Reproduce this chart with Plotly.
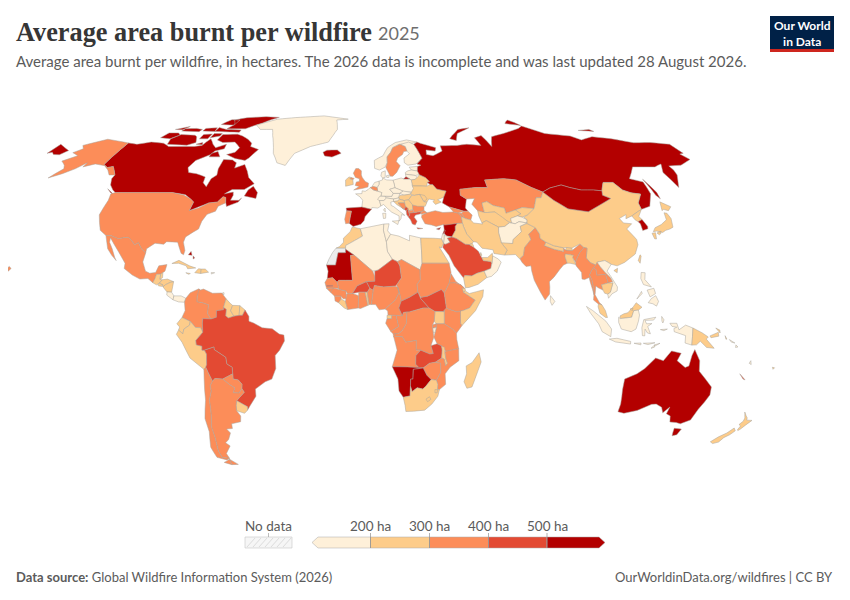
import plotly.graph_objects as go

# ---- Values read from the legend colour of each country (hectares, estimated inside each bin); None = no data
GEO_LOW = ["GRL","CRI","PAN","PRI","NOR","FIN","DNK","FRA","NLD","DEU","POL","CZE","AUT","CHE","ITA","SVN","SVK","LTU","LVA","EST","ISR","JOR","OMN","TJK","AFG","LKA","VNM","IDN","PHL","TLS","SLB","VUT","DZA","TUN","LBY","BDI","TTO"]
GEO_200 = ["GTM","BLZ","HND","SLV","NIC","CUB","HTI","DOM","JAM","GUY","SUR","GUF","ECU","PER","URY","IRL","HRV","SRB","HUN","UKR","MDA","BLR","ROU","IRQ","IRN","YEM","ARE","QAT","KWT","UZB","TKM","KGZ","PAK","NPL","BTN","BGD","CHN","PRK","JPN","TWN","KHM","MYS","BRN","PNG","NZL","FJI","MAR","EGY","DJI","SOM","LBR","TGO","GNQ","UGA","MWI","ZAF","LSO","SWZ","MDG"]
GEO_300 = ["USA","MEX","COL","VEN","CHL","ARG","PRY","GBR","SWE","PRT","BEL","BIH","MKD","BGR","TUR","GEO","ARM","AZE","KAZ","IND","MMR","THA","LAO","MLI","TCD","SDN","ERI","ETH","SEN","GNB","GIN","SLE","CIV","GHA","BEN","NGA","CMR","GAB","COG","COD","KEN","TZA","RWA","AGO","MOZ","ZWE"]
GEO_400 = ["BRA","BOL","MNE","ALB","GRC","SAU","NCL","NER","SSD","GMB","BFA","CAF","ZMB"]
GEO_500 = ["CAN","ISL","BHS","ESP","CYP","SYR","LBN","RUS","MNG","KOR","AUS","MRT","NAM","BWA"]
GEO_NONE = ["ESH"]
BIN_VALUES = [150, 250, 350, 450, 600]
legend_ticks = ["200 ha", "300 ha", "400 ha", "500 ha"]
legend_colors = ["#fef0d9", "#fdcc8a", "#fc8d59", "#e34a33", "#b30000"]
NO_DATA_COLOR = "#ececec"

# ---- Geography: coarse lon/lat outlines, needed because the world topojson cannot be fetched offline
OUTLINES = {
"CAN":["-141 69.6,-135 69,-128 70,-120 69.5,-115 68,-108 68,-100 68,-96 68.5,-94 71.5,-90 69,-87 67.5,-82 69,-81.5 67,-86 66,-87 64.5,-93 62,-94.5 59,-92.5 57,-88 56.5,-82.5 55.2,-82 52.9,-79.5 51.3,-79 54.5,-77 56,-78 58.5,-78 62.4,-73 62.2,-70 61,-69.5 58.8,-65 60.3,-62 57.5,-60 55,-56 52.5,-60 50.2,-66 50.2,-69 48.5,-65 49.2,-64.5 48,-65 46,-61 46,-60 46.9,-61 45.3,-66 43.6,-67 45.2,-67.8 47.1,-69.2 47.4,-71 45.3,-75 45,-79 43.5,-83 42,-82.5 45.3,-84.5 46.5,-88 48.2,-95 49,-123 49,-125 50,-128 52,-130 54.5,-130 56,-135 59.5,-137.5 59,-141 60.3",
"-61.5 66.7,-64.5 63,-66 62,-72 62.8,-78 64.5,-74 65.5,-73 67.5,-78 70,-85 69.8,-89.5 71,-89 73.5,-80 73.7,-76 72.8,-71 71.2,-67.5 69.5,-67 68",
"-117 69,-105 68.6,-101 69.8,-104 72.5,-106 73.2,-115 73.5,-118.5 71.5","-125.5 72,-119 71.5,-115.5 73.3,-118 74.3,-124 74.3","-90 76.3,-78 76.3,-74 78,-70 79.3,-66 81.3,-62 82.6,-72 83.1,-85 82.4,-92 81,-88 78.5","-96 75,-80 74.6,-80 75.7,-90 76,-96 77","-117.5 75.2,-106 74.9,-105.5 76,-110 76.5,-117 76.3","-97 78.5,-88 78.2,-88 81,-94 81.2","-59 47.7,-53 46.7,-53 49,-56 51.5,-58 50","-128 50.5,-123.5 48.4,-125 48.8","-87 63.5,-81 63.5,-84 65.8,-87 65","-95 72,-90 72.8,-90 74,-95 74","-101 71.5,-96 71.5,-96 73.8,-101 73.5","-104 75.2,-96 75,-97 76.8,-104 76.5","-123 76,-118 75.8,-116 77.5,-120 76.6","-100 69,-96 68.8,-97 69.8"],
"GRL":["-73 78.2,-68 76,-60 76,-55 70,-52 65,-48 61,-43 59.9,-40 65,-32 68,-22 70,-18 76,-20 81,-12 81.5,-30 83.6,-50 82.5,-62 81.5"],
"USA":["-124.7 48.4,-123 49,-95 49,-88.5 48,-84.5 46.5,-82.5 45.3,-83 42,-79 43,-75 45,-71 45.3,-69.2 47.4,-67.8 47.1,-67 45,-70 43.7,-70.5 41.8,-74 40.6,-75.5 38,-76 35,-78 33.9,-81 32,-81.4 30,-80 26.8,-80.3 25.2,-81.5 25.8,-82.8 28,-84 30,-89 30.2,-90 29.2,-94 29.6,-97.2 27.5,-97.2 25.9,-99.5 27.5,-101.5 29.8,-103 29,-104.7 30.5,-106.5 31.8,-108.2 31.8,-111 31.3,-114.8 32.5,-117.1 32.5,-120.6 34.5,-122.5 37.5,-124.3 40.4,-124 46",
"-141 69.6,-141 60.3,-137.5 59,-135 59.5,-130 56,-133 56,-136 58,-140 59.8,-146 60.5,-151 59.3,-151 61,-154 58.5,-158 56.5,-163 54.8,-160 58.5,-162 60,-166 61.7,-161 64,-166 65.3,-163 67,-166 68.5,-156.5 71.3,-148 70.4",
"-156 19,-155 20,-156 20.8,-157 20"],
"MEX":["-117.1 32.5,-114.8 32.5,-111 31.3,-108.2 31.8,-106.5 31.8,-104.7 30.5,-103 29,-101.5 29.8,-99.5 27.5,-97.2 25.9,-97.8 22.5,-96 19,-94 18.2,-91.5 18.5,-90.5 21,-87 21.5,-87.5 19,-88.3 18.5,-89 17.9,-91 17.8,-91.4 16.2,-92.2 14.6,-94.5 16.2,-98 16,-101.5 17.5,-105.5 20,-105.5 22,-109 26,-112.5 29.5,-114.7 31.7,-114.5 30,-112.5 27.5,-110.5 24.2,-109.6 23,-112 25,-114.5 27.5,-116 30.5"],
"GTM":["-92.2 14.6,-91.4 16.2,-91 17.8,-89.2 17.8,-89.2 15.9,-88.3 15.7,-89.3 14.4,-90.5 13.8"],
"BLZ":["-89.2 17.9,-88.3 18.5,-88.2 16.5,-89.2 15.9"],
"SLV":["-90 13.8,-89.3 14.4,-87.8 13.9,-87.8 13.2,-89.5 13.4"],
"HND":["-89.3 14.4,-88.3 15.7,-86 16,-83.2 15,-84.7 14.7,-86.7 13.8,-87.5 13,-87.8 13.9"],
"NIC":["-87.6 13,-86.7 13.8,-84.7 14.7,-83.2 15,-83.7 11,-85.7 11.1"],
"CRI":["-85.7 11.1,-83.7 11,-82.6 9.6,-82.9 8.1,-85.7 9.9"],
"PAN":["-82.9 8.1,-82.6 9.6,-79.5 9.6,-77.4 8.7,-77.9 7.2,-80.4 7.3"],
"CUB":["-84.9 21.9,-82 23.1,-77 21,-74.2 20.2,-77.7 19.9,-78.5 21,-82 22"],
"HTI":["-74.4 18.4,-73 19.9,-71.7 19.8,-71.8 18.1"],
"DOM":["-71.7 19.8,-70 19.8,-68.4 18.6,-71.8 18.1"],
"JAM":["-78.3 18.4,-76.3 18.1,-77 17.8"],
"PRI":["-67.2 18.5,-65.7 18.4,-67.1 17.9"],
"BHS":["-78.2 25.2,-77.2 26.5,-76.5 25","-76 24.8,-75.2 24,-75.8 23.6"],
"TTO":["-61.6 10.8,-61 10.8,-61 10.1,-61.8 10.1"],
"COL":["-77.4 8.7,-75.6 10.8,-72 12.3,-71.3 11.8,-72.5 9.5,-72.5 7.4,-70 7,-67.5 6.2,-67.8 2.8,-66.3 0.8,-69.8 1,-70 -0.7,-69.9 -4.2,-70.8 -2.5,-73 -2.4,-75.2 -0.1,-78.8 1.4,-77.5 4,-77.9 7.2"],
"VEN":["-72 12,-71.3 11.8,-70 12.2,-66 10.6,-62 10.7,-60.8 9.4,-60 8.5,-61 5.2,-61 4.3,-64 4,-64 1.5,-66.3 0.8,-67.8 2.8,-67.5 6.2,-70 7,-72.5 7.4,-72.5 9.5"],
"GUY":["-60 8.5,-58.2 6.8,-57.1 6,-57.9 4,-56.5 1.9,-58.8 1.2,-60 2,-59.8 4.5,-61 5.2"],
"SUR":["-57.1 6,-54 5.9,-54.2 2.2,-56.5 1.9,-57.9 4"],
"GUF":["-54 5.9,-51.7 4.2,-52.8 2.2,-54.2 2.2"],
"ECU":["-78.8 1.4,-75.2 -0.1,-75.5 -1.5,-78 -3,-78.5 -4.8,-80.3 -3.4,-79.8 -2.2,-81 -1"],
"PER":["-80.3 -3.4,-78.5 -4.8,-78 -3,-75.5 -1.5,-75.2 -0.1,-73 -2.4,-70.8 -2.5,-69.9 -4.2,-73 -7.3,-72.9 -9,-70.5 -9.5,-70.6 -11,-69.5 -11,-68.7 -12.5,-69 -16.5,-69.5 -17.5,-70.4 -18.3,-76 -14,-79 -8,-81.3 -5"],
"BRA":["-51.7 4.2,-50 1.8,-50 0,-48 -0.7,-44.3 -2.5,-40 -2.9,-37 -4.9,-35 -5.3,-34.8 -7.5,-37 -11,-39 -13,-39 -18,-41 -22,-44 -23,-48.6 -25.8,-48.7 -28.5,-52 -32.2,-53.4 -33.8,-53.2 -32.5,-57.6 -30.2,-53.7 -27,-54.6 -25.6,-54.3 -24,-55.8 -22.3,-58 -22,-58 -20,-58 -17.5,-60.2 -16.3,-60.5 -13.7,-65.3 -10.8,-65.3 -9.8,-69.5 -11,-70.6 -11,-70.5 -9.5,-72.9 -9,-73 -7.3,-69.9 -4.2,-70 -0.7,-69.8 1,-66.3 0.8,-64 1.5,-64 4,-61 4.3,-61 5.2,-59.8 4.5,-60 2,-58.8 1.2,-56.5 1.9,-54.2 2.2,-52.8 2.2"],
"BOL":["-69.5 -11,-65.3 -9.8,-65.3 -10.8,-60.5 -13.7,-60.2 -16.3,-58 -17.5,-58 -20,-62.6 -22,-66 -21.8,-67.2 -22.8,-68.7 -19.5,-69.5 -17.5,-69 -16.5,-68.7 -12.5"],
"PRY":["-58 -20,-58 -22,-55.8 -22.3,-54.3 -24,-54.6 -25.6,-56 -27.3,-58.6 -27.2,-57.7 -25.3,-60 -24,-62.6 -22"],
"URY":["-57.6 -30.2,-53.2 -32.5,-53.4 -33.8,-55 -35,-58.4 -34,-58.2 -32"],
"ARG":["-66 -21.8,-62.6 -22,-60 -24,-57.7 -25.3,-58.6 -27.2,-56 -27.3,-54.6 -25.6,-53.7 -27,-57.6 -30.2,-58.2 -32,-58.4 -34,-57 -36,-57.6 -38.2,-62 -39,-62.2 -40.8,-65 -41,-63.7 -42.5,-65.5 -45,-67.5 -46.3,-65.8 -47.5,-69 -50.5,-68.4 -52.4,-71.9 -52,-72.5 -49.5,-71.7 -44,-71.8 -40,-70.5 -36,-70 -33,-69.8 -30,-68.3 -26.5,-68.5 -24.5,-67.2 -22.8","-68.6 -52.7,-65.2 -54.8,-68.6 -54.9"],
"CHL":["-69.5 -17.5,-68.7 -19.5,-67.2 -22.8,-68.5 -24.5,-68.3 -26.5,-69.8 -30,-70 -33,-70.5 -36,-71.8 -40,-71.7 -44,-72.5 -49.5,-71.9 -52,-68.4 -52.4,-70 -53,-74.5 -52,-75.5 -48,-73.5 -42,-73.7 -37,-71.5 -30,-70.4 -18.3","-68.6 -52.7,-68.6 -54.9,-72 -54,-70 -53.3"],
"ISL":["-24 65.5,-22 66.4,-16 66.5,-13.6 65,-18.5 63.4,-22.7 63.9"],
"GBR":["-5.7 50,-1 50.7,1.4 51.2,1.7 52.7,0 53.4,-1.5 55,-2 56,-2 57.7,-3.5 58.6,-5 58.6,-6.2 56.7,-5 55,-3 54.5,-3 53.4,-4.5 53.2,-5 51.8,-3 51.4","-7.3 55,-5.6 54.6,-6.3 54.1,-7.9 54.4"],
"IRL":["-6.3 54.1,-6 52.2,-9.8 51.5,-10 54,-8.3 55.2,-7.3 55,-7.9 54.4"],
"NOR":["5 58.7,7.5 58,10.6 59.2,12 61,12.2 63.5,14.5 65.5,16 67.5,20 69,25 69,29 69.7,31 70,25 71,18 69.8,13 67.5,10 64,5 62,5 60"],
"SWE":["11 59,13 55.5,14.3 55.5,16.5 57,18.8 59.8,17 61.5,18 63,21 64.5,22 65.8,24 66,23.5 68,20.5 69,16 67.5,14.5 65.5,12.2 63.5,12 61"],
"FIN":["24 65.9,25 64.8,21.5 63,21.3 61,23 60,27.5 60.5,31.5 62.9,29.8 67,28.7 69,26 70,21 69,23.5 68"],
"DNK":["8.1 55.5,8.6 57.1,10.6 57.7,10.3 55,9 54.8","11 55.7,12.6 56,12.2 55,11.1 55"],
"EST":["23.5 59.2,28 59.5,27.5 57.6,24.4 58"],
"LVA":["21 57,22.5 57.7,24.4 58,27.5 57.6,28.2 56.1,26 55.8,21 56.3"],
"LTU":["21 56.3,26 55.8,26.8 55,25.5 54.2,23.5 54,22.8 54.4,21 55.3"],
"BLR":["23.5 54,25.5 54.2,26.8 55,28.2 56.1,31 55,32.7 53.4,31.5 53,30.8 51.5,28 51.6,23.6 51.6,23.6 52.6"],
"UKR":["23.6 51.6,28 51.6,30.8 51.5,32.7 52.2,34 52.2,35.5 50.4,38.2 49.9,40 49.6,38.2 47.2,35 46.2,36.6 45.3,33.6 44.4,32.6 45.5,33.5 46.1,30.8 46.5,29.7 45.3,28.2 45.5,29 47,26.6 48.3,24 47.9,22.2 48.4,22.8 49.2"],
"MDA":["26.6 48.3,29 47.9,30 46.5,28.2 45.5"],
"POL":["14.2 53.9,18.5 54.8,19.7 54.4,22.8 54.4,23.5 54,23.6 52.6,23.6 51.6,24 50.6,22.8 49.2,19 49.4,14.8 50.9,14.7 52"],
"DEU":["7 53.5,8.8 54,9 54.8,11 54,14.2 53.9,14.7 52,14.8 50.9,12.2 50.3,13.8 48.7,13 47.5,7.6 47.6,8.2 49,6.2 49.5,6 51,7 52.3"],
"NLD":["3.4 51.4,4.8 53,7 53.5,7 52.3,6 51,4 51.3"],
"FRA":["2.5 51,1.5 50.2,0 49.5,-1.5 49.7,-1.6 48.6,-4.7 48.5,-2.5 47.3,-1.2 46,-1.6 43.4,3 42.5,3.2 43.2,6 43,7.5 43.8,6.9 46,7.6 47.6,8.2 49,6.2 49.5,4.2 50","8.6 42.3,9.4 43,9.5 41.5"],
"BEL":["2.5 51,4 51.4,5.9 51,6.2 49.6,4.2 50"],
"ESP":["-9 43,-1.6 43.4,3 42.5,0 39.8,-0.5 38.2,-2 36.8,-5.5 36,-7.4 37.2,-7 39.5,-6.5 41.8,-8.8 42"],
"PRT":["-8.8 41.9,-6.5 41.8,-7 39.5,-7.4 37.2,-9 37,-9.5 38.7"],
"CHE":["6 46.3,6.9 47.4,7.6 47.6,9.6 47.5,10.4 46.9,9 45.9,6.9 45.9"],
"AUT":["9.6 47.5,13 47.5,13.8 48.7,17 48.7,16.2 46.9,13.7 46.5,10.4 46.9"],
"ITA":["6.9 45.9,9 45.9,10.4 46.9,13.7 46.5,13.8 45.6,12.3 45.3,12.4 44,13.5 43.6,16 41.9,18.5 40.2,17 40.5,16.6 38.9,15.7 38,15.8 40,12.5 41.4,10.5 42.9,8.8 44.4,7.5 43.8","12.5 38,15.6 38.2,15 36.7","8.2 41,9.7 41,9.5 39.1,8.5 39"],
"CZE":["12.2 50.3,14.8 50.9,18.8 49.6,17 48.7,13.8 48.7"],
"SVK":["17 48.7,18.8 49.6,22.5 49.1,22.2 48.4,19 48"],
"HUN":["16.2 46.9,17 48,19 48,22.2 48.4,22.8 47.9,21 46.2,18.8 45.9,16.7 46.4"],
"SVN":["13.7 46.5,16.2 46.9,16.7 46.4,15.5 45.7,13.7 45.5"],
"HRV":["13.7 45.5,15.5 45.7,16.7 46.4,18.8 45.9,19 45,15.8 45,17.5 43,18.5 42.5,15.2 44.3"],
"BIH":["15.8 45,19 45,19.3 43.6,18.5 42.5,17.5 43"],
"SRB":["18.8 45.9,21 46.2,22.6 44.5,22.6 42.5,20.6 42,19.3 43"],
"MNE":["18.5 42.5,19.3 43.6,20.3 42.8,19.3 41.9"],
"ALB":["19.3 41.9,20.3 42.8,20.6 41,20.9 40.3,20 39.7,19.4 40.5"],
"MKD":["20.6 42,22.6 42.3,23 41.3,20.6 41"],
"GRC":["20 39.7,20.9 40.3,20.6 41,23 41.3,26.3 41.7,26 40.8,23.5 40.3,22.8 39.5,24 38,23 36.5,21.7 36.9,21 38.5","23.6 35.5,26.3 35.2,24 35"],
"BGR":["22.6 44.2,28 43.7,27.7 42,26.3 41.7,23 41.3,22.6 42.5"],
"ROU":["21 46.2,22.8 47.9,24 47.9,26.6 48.3,28.2 45.5,29.7 45.2,28.6 43.7,25 43.7,22.6 44.2"],
"TUR":["26.2 39.5,27.5 37,30.5 36.5,32.5 36,36 36.7,36.5 36.2,42.3 37.1,44.8 37.2,44.8 39.7,43.6 41.1,41.5 41.5,36.5 41.3,33 42,29 41.2,26.5 40.3","26.3 41.7,28 42,29 41.2,26.2 40.6"],
"CYP":["32.5 35,34.5 35.6,33.7 34.7"],
"RUS":["28 59.5,30 60,28 60.5,31.5 62.9,29.8 67,28.7 69,31 70,33 69.4,41 67.5,40 66,35 66.5,34.5 64.5,38 64,40 64.6,44 66,44 68.3,54 68.5,60 69,68 68.5,67 72,72 73,73 71,74 68,78 72.5,87 74,100 76.5,104 77.7,113 74,127 72.8,131 71,140 72.5,150 71.5,160 69.7,170 69.8,180 69,180 65,177.5 64.7,179 62.4,170 60,163 59.7,163 58,162 56,156.5 51,156 57,160 60.5,155 59.3,143 59.3,135.5 54.5,141 53.2,140 48.5,135.5 43.7,131.5 42.7,130.6 42.5,131 45,135 48.4,130.7 48.9,127.5 50,125.5 53,120.5 53,117 49.7,113 50,107 50,102 51,98.5 52,92 50.8,87.5 49.2,83 51,77 54,71 54.5,61 54,61 51,55 51,47 50.3,46.5 48,49 46.5,47.5 43,48.5 41.8,46.5 41.8,40 43.4,37 45,38.2 47.2,40 49.6,38.2 49.9,35.5 50.4,34 52.2,32.7 52.2,31.5 53,32.7 53.4,31 55,28.2 56.1,27.5 57.6",
"-180 69,-170 66.2,-172 64.4,-175.5 64.5,-178 65.5,-180 65","142 54.3,143.5 49,143 46.6,142 48,142 52","51.5 71.5,55 70.7,58 74,68 76.8,60 76,54 73","95 79,104 78,100 81","137 75.5,146 75,145 76","19.7 54.4,22.8 54.4,21 55.3"],
"GEO":["40 43.4,46.5 41.8,43.6 41.1,41.5 41.5"],
"ARM":["43.6 41.1,45 41,46.5 39,44.8 39.7"],
"AZE":["45 41,46.5 41.8,48.5 41.8,50 40.3,48.9 38.4,46.5 39"],
"KAZ":["46.5 48,47 50.3,55 51,61 51,61 54,71 54.5,77 54,83 51,87.5 49.2,85.5 47,83 47,80 42.8,74.5 43.2,71 42.3,66 41,66 43,61 44,58.5 45.5,56 45,56 41.3,53 42,51 44.5,53 46.7,49 46.5"],
"UZB":["56 41.3,56 45,58.5 45.5,61 44,66 43,66 41,71 42.3,73 40.8,71 40,67.5 39,67.5 37.3,64 38.5,61 41.5,57.5 41.3"],
"TKM":["53 42,56 41.3,57.5 41.3,61 41.5,66.5 37.4,64 36,61 35.7,56 38.2,53.8 37.3,53 40"],
"KGZ":["71 42.3,74.5 43.2,80 42.8,76 40.4,73 39.5,71 40,73 40.8"],
"TJK":["67.5 37.3,67.5 39,71 40,73 39.5,75 38.5,74.5 37.3,71 37.8,69 37"],
"AFG":["61 35.7,64 36,66.5 37.4,69 37,71 37.8,74.5 37.3,71 36,71 34,69.5 33,66.5 31,66 29.5,61 29.5,60.8 31,60.5 33.5"],
"PAK":["60.9 29.8,66 29.5,66.5 31,69.5 33,71 34,71 36,74.5 37.1,77.8 35.5,74 33,74.5 31,71 28,70 25,68 23.7,66.5 25.3,61.6 25.1,63 27"],
"IRN":["44.8 39.7,46.5 39,48.9 38.4,50 37.3,54 36.9,53.8 37.3,56 38.2,61 35.7,60.5 33.5,60.8 31,60.9 29.8,63 27,61.6 25.1,57 25.7,56.8 27.1,52 27.7,50 30,48.5 30.2,46 33,45 35.9,44.8 37.2"],
"IRQ":["42.3 37.1,44.8 37.2,45 35.9,46 33,48.5 30.2,47.9 29.5,46.5 29.1,44.7 29.2,41 31.4,39 32,41 34.5,41.2 36"],
"SYR":["36 36.7,36 35,35.8 33.3,36.8 32.3,39 32,41 34.5,41.2 36,42.3 37.1,36.5 36.5"],
"LBN":["35.1 33.1,36 34.6,36.5 34.5,35.8 33.3"],
"ISR":["34.3 31.3,35 33.1,35.8 33.2,35.5 31,35 29.5"],
"JOR":["35 29.4,35.5 31,35.8 32.6,36.8 32.3,39 32,37 31.5,38 30,36 29.2"],
"SAU":["35 29.4,36 29.2,38 30,37 31.5,39 32,41 31.4,44.7 29.2,46.5 29.1,48.2 28.2,50.2 26.6,51.2 24.6,52 23,55.2 22.7,55.7 22,55 20,52 19,48.8 18.2,46.5 17.2,43.4 17.3,42.8 16.4,39 21,37 25,34.6 28"],
"YEM":["42.8 16.4,43.4 17.3,46.5 17.2,48.8 18.2,52 19,53 16.6,49 14,45 12.8,43.4 12.7"],
"OMN":["52 19,55 20,55.7 22,56.3 24.8,58.7 23.6,59.8 22.4,57.7 19,55 17,53 16.6"],
"ARE":["51.6 24.2,54 24.2,56.3 25.8,56.3 24.8,55.7 22,55.2 22.7,52 23"],
"QAT":["50.8 24.8,51.2 26.1,51.6 25"],
"KWT":["46.5 29.1,47.9 29.5,48.4 28.5,48.2 28.2"],
"IND":["68.2 23.7,70 25,71 28,74.5 31,74 33,77.8 35.5,79 33,78.7 31.5,81 30,80 28.7,84 27.3,88 26.5,88.2 27.9,89 27,92 26.9,96 29.3,97.4 28,95 26,93.5 24,92.5 22.5,91.5 24.2,92 25,88.5 25.5,88.2 24.5,88.8 22,87 21.3,85 19.5,82.2 16.7,80 15,80 13,79.7 10.3,77.6 8,75.8 11,73.5 15.5,72.8 19,72.7 21,70.5 20.8,69 22.3"],
"NPL":["80 28.7,81 30,84 28.7,88.2 27.9,88 26.5,84 27.3"],
"BTN":["89 27,89.5 28,92 27.8,92 26.9"],
"BGD":["88.2 24.5,88.5 25.5,92 25,91.5 24.2,92.5 21.5,90 22,88.8 22"],
"LKA":["80 9.7,81.8 7.5,80.5 6,79.8 7.5"],
"CHN":["73.8 39.5,76 40.4,80 42.8,83 47,85.5 47,87.5 49.2,91 46,96 42.7,105 41.6,111.5 44,119 46.7,116 48,117 49.7,120.5 53,125.5 53,127.5 50,130.7 48.9,135 48.4,131 45,130.6 42.5,128 41.5,124.4 40,121 38.9,122 40.5,118 39,119 37.3,122.6 37,119.3 35,122 31,121.8 29,119.5 25.5,114 22.3,110.5 21,108 21.6,105.5 23,102 22.4,101.5 21.2,99 22.2,97.5 24,98.7 27.7,97.4 28,96 29.3,92 27.8,89.5 28,88.2 27.9,84 28.7,81 30,78.7 31.5,79 33,77.8 35.5,74.5 37.1,75 38.5","108.7 19.2,110.5 20.1,110 18.4"],
"MNG":["87.5 49.2,92 50.8,98.5 52,102 51,107 50,113 50,117 49.7,116 48,119 46.7,111.5 44,105 41.6,96 42.7,91 46"],
"PRK":["124.4 40,128 41.5,130.6 42.5,127.5 39.8,128.3 38.6,126 37.8,125 38.5"],
"KOR":["126 37.8,128.3 38.6,129.4 36,129 35.1,126.3 34.4,126.6 37"],
"JPN":["130.9 34,132.5 35.5,136 36.7,139.5 38.5,140.3 41.2,141.5 41,142 39,140.8 35.7,139 35,136.8 34.5,135 33.7,132.5 34.2","130 33.4,131.7 33.6,131 31.2,130.2 31.3","132.3 33.5,134.5 34.2,134 33.3,133 32.8","140 42,141.7 45.4,145.3 43.5,143 42,141 42.5"],
"TWN":["120.2 23,121.5 25.2,121.9 24.8,120.8 22"],
"MMR":["92.5 21,92.5 22.5,93.5 24,95 26,97.4 28,98.7 27.7,97.5 24,99 22.2,101.2 21.3,100 20.3,98.8 19,97.8 17.5,98.6 15.5,99 12,98.8 10,98.4 12,97.7 15,97.5 16.6,95.4 15.8,94.3 16,94.5 18.5"],
"THA":["97.8 17.5,98.8 19,100 20.3,101 19.5,101 17.5,104.8 17.8,105.5 14.5,102.5 13.8,102.9 11.8,100.9 12.7,100 13.4,99.3 10,101 7,102 6.2,100.5 6.5,98.5 8,98.8 10,99 12,98.6 15.5"],
"LAO":["100 20.3,101.2 21.3,102 22.4,103 20.8,104.8 18.5,106.8 16.5,107.5 15,105.5 14.5,104.8 17.8,101 17.5,101 19.5"],
"VNM":["102 22.4,105.5 23,108 21.6,105.7 19,107 17,109.3 13,109 11.5,106.7 10.4,105 8.7,104.8 10.3,106 11,107.5 14.5,107.5 15,106.8 16.5,104.8 18.5,103 20.8"],
"KHM":["102.9 11.8,102.5 13.8,105.5 14.5,107.5 14.5,106 11,104.8 10.3,103.5 10.6"],
"MYS":["100.5 6.5,102 6.2,103.4 4,104.2 1.4,103.4 1.4,101 3,100.3 5.5","109.6 2,111.3 2.8,113 3.2,115.5 5.5,116.8 7,119.2 5.3,117.6 4.2,115.6 4,114.6 1.5,112 1.2,109.7 1"],
"BRN":["114 4.6,115.3 5,115 4"],
"IDN":["95.3 5.6,98 4,103.5 0,106 -3,105.8 -5.9,102 -4,100.4 -1,97 3","105.2 -6.8,108.5 -6.5,114.5 -7.7,114.5 -8.7,108 -7.9","109 1.5,109.7 1,112 1.2,114.6 1.5,115.6 4,117.6 4.2,118 2.3,117.5 0,116.5 -3,114.5 -4,110.2 -3,109 -0.5","119.8 0.6,125 1.5,124 0.4,120.3 0.3,121 -1,123.3 -0.9,121.5 -2,122.8 -4.8,121.5 -4.5,120.4 -3,120.4 -5.6,119.4 -5.5,119 -2.5","131 -0.8,134 -0.8,135 -3.3,137.8 -1.5,141 -2.6,141 -9.1,138 -8.3,138 -5.5,133 -4,132.8 -2.8,134 -2.3,132 -2","116 -8.4,119 -8.3,119 -9","120 -8.4,125 -8.2,122 -8.9","123.5 -10.3,125 -9,124.9 -9.9","127.5 1.8,128.5 0.5,128 -0.7,127.6 0","127 -3.2,130 -3,128.5 -3.6"],
"TLS":["124.9 -9,127.2 -8.4,125 -9.5"],
"PHL":["120.5 18.5,122.2 18.4,121.6 15.8,124 13,120.7 13.9,119.9 16.2","122 7,123.5 8.6,125.5 9.7,126.5 7.5,125.5 5.7,124 6.6","117.2 8.4,119.5 11.3,119.7 10.5","122 11.8,125 12.5,125.5 10.5,123 9.2"],
"PNG":["141 -2.6,145 -4.4,147.8 -6,147 -6.8,150.8 -10.3,147.5 -10,144.5 -7.6,143 -9,141 -9.1","148.5 -5.6,152 -4.2,152.3 -5.7,149 -6.3","155 -5.5,155.9 -6.8,155.5 -6.9","150.8 -2.6,152.8 -4.5,152.6 -3.4"],
"SLB":["157 -7,159.5 -8.3,158 -8","160 -9,161 -9.8,160 -10"],
"VUT":["167.5 -15,168 -16.5,167 -16"],
"NCL":["164 -20,167 -22.3,166 -22"],
"FJI":["177.5 -17.5,178.5 -17.7,178 -18.3"],
"AUS":["114 -22,114 -26,115 -31.5,115 -34.4,118 -35,123.5 -33.9,129 -31.6,131 -31.5,134 -32.7,135.6 -34.8,137.7 -32.6,137.5 -35.2,139.7 -36,141 -38.3,144 -38.5,146.3 -39,150 -37.5,151 -33.5,153.5 -28,153 -25,149.5 -22,146 -19,145.3 -15,142.5 -10.8,141.6 -13,141 -17,139.5 -17.6,135.5 -15,136.8 -12.2,132.5 -11.3,129.5 -15,126 -14,122 -18,119 -20","144.7 -40.7,148.3 -41,147.9 -43.2,146 -43.6,145.3 -42.3"],
"NZL":["172.8 -34.5,174.5 -36,175.5 -36.7,176 -37.6,178.5 -37.7,177 -39.5,176 -41,175.3 -41.6,174.8 -41.2,175 -39.8,173.8 -39.3,174.7 -38,174.5 -36.8","172.7 -40.6,174.2 -41.7,173 -43.2,171.3 -44.3,170.6 -46,168.3 -46.6,166.5 -45.9,168.5 -44,171 -42.5"],
"MAR":["-5.9 35.8,-2.2 35.1,-1.2 32.3,-8.7 28.7,-8.7 27.7,-13 27.7,-11.5 28.3,-9.7 30,-9.8 31.5,-6.8 34"],
"ESH":["-13 27.7,-8.7 27.7,-8.7 26,-12 26,-13 21.3,-17 21.3,-16 23.5,-14.5 26"],
"DZA":["-2.2 35.1,8.6 36.9,8.3 34.6,9.5 30.2,9.9 26.5,12 23.5,5.7 19.4,3.3 19,-4.8 25,-8.7 27.3,-8.7 28.7,-1.2 32.3"],
"TUN":["8.6 36.9,11 37,10.2 34.3,11.5 33,9.5 30.2,8.3 34.6"],
"LBY":["11.5 33,15.2 32.3,19.9 30.5,20 32.6,25 31.6,25 22,24 19.5,16 23.4,14.2 22.6,12 23.5,9.9 26.5,9.5 30.2"],
"EGY":["25 31.6,31 31.5,34.3 31.3,35 29.5,34 27.8,33 28.2,36.9 22,25 22"],
"MRT":["-17 21.3,-13 21.3,-12 26,-8.7 26,-8.7 27.3,-4.8 25,-6.5 25,-5.5 15.5,-11.5 15.5,-12.2 14.8,-14.2 16.5,-16.5 16.2,-16.2 19"],
"MLI":["-12.2 14.8,-11.5 15.5,-5.5 15.5,-6.5 25,-4.8 25,3.3 19,4.2 16.9,4.2 15.2,0.5 15,-3.5 13.4,-5.5 10.5,-7.5 10.3,-8.3 11.4,-11.3 12"],
"NER":["4.2 15.2,4.2 19,5.7 19.4,12 23.5,14.2 22.6,15.2 21,15.8 16.5,13.6 13.7,13 13.3,8 13,4 13.5,3.5 11.7,2 12.5,0.5 15"],
"TCD":["14.2 22.6,16 23.4,24 19.5,24 15.7,22.5 14,22.8 11,19 9,15.5 7.6,15 10,14 13,13.6 13.7,15.8 16.5,15.2 21"],
"SDN":["24 19.5,25 22,36.9 22,37.5 18.5,36.5 14.5,34.2 10.7,33 12,27 9.5,24 9,22.8 11,22.5 14,24 15.7"],
"SSD":["24 9,27 9.5,33 12,34.2 10.7,35 5,33.9 3.6,30 3.7,27.5 5,24 8.5"],
"ERI":["36.5 14.5,37.5 18,39.3 15.2,43 12.5,41.5 13.8,39 14.6,37 14.4"],
"ETH":["36.5 14.5,39 14.6,41.5 13.8,43 12.5,42.5 11,47.5 8,45 5,42 4,39.5 3.5,36 4.5,35 5,34.2 10.7"],
"DJI":["42 12.5,43.3 12.4,43.3 11.5,42.5 11"],
"SOM":["42.5 11,43.3 11.5,45 10.5,51.2 11.9,50.8 9.4,47.5 4,41.6 -1.7,41 -0.8,41 3.9,42 4,45 5,47.5 8"],
"KEN":["34 4.2,35 5,36 4.5,39.5 3.5,41 3.9,41 -0.8,41.6 -1.7,39.3 -4.6,37.7 -3.1,34 -1,34 1"],
"UGA":["30 3.7,33.9 3.6,34 4.2,34 1,34 -1,30.5 -1,29.7 0"],
"TZA":["30.5 -1,34 -1,37.7 -3.1,39.3 -4.6,39.5 -7,40.4 -10.4,35 -11.6,33 -9.4,31 -8.6,29.6 -6,30.5 -3"],
"RWA":["29 -1.4,30.5 -1,30.6 -2.4,29 -2.7"],
"BDI":["29 -2.7,30.6 -2.4,30 -4.4,29.3 -4.4"],
"SEN":["-16.5 16.2,-14.2 16.5,-12.2 14.8,-11.4 12.4,-13.7 12.6,-16.7 12.4,-17.5 14.7"],
"GMB":["-16.7 13.6,-14 13.6,-14 13.3,-16.7 13.2"],
"GNB":["-16.7 12.4,-13.7 12.6,-13.7 11.7,-15 11"],
"GIN":["-15 11,-13.7 12.6,-11.3 12,-8.3 11.4,-8 8.5,-9.5 8.5,-10.5 9.5,-13.2 9.5"],
"SLE":["-13.2 9.5,-10.5 9.5,-10.3 8.4,-11.5 7,-13 7.7"],
"LBR":["-11.5 7,-10.3 8.4,-8.5 7.5,-7.5 4.4,-9 5"],
"CIV":["-8.5 7.5,-8 10.3,-5.5 10.5,-2.8 9.7,-3 5,-7.5 4.4"],
"BFA":["-5.5 10.5,-3.5 13.4,0.5 15,2 12.5,0.9 11,-2.8 11"],
"GHA":["-2.8 11,0 11,1.2 6,-2 4.8,-3 5,-2.8 9.7"],
"TGO":["0 11,0.9 11,1.7 6.3,1.2 6"],
"BEN":["0.9 11,2 12.5,3.5 11.7,2.7 6.3,1.7 6.3"],
"NGA":["2.7 6.3,3.5 11.7,4 13.5,8 13,13 13.3,14 13,14.7 11,13 8,11 6.5,8.6 4.6,6 4.3,4.5 6.3"],
"CMR":["8.6 4.6,11 6.5,13 8,14.7 11,14 13,15 10,15.5 7.6,14.5 5,16 2,13 2.2,9.8 2.3,9.7 3.9"],
"CAF":["14.5 5,15.5 7.6,19 9,22.8 11,24 8.5,27.5 5,25 5,19 3.5,16.5 3.3,16 2"],
"GAB":["9.4 1,11.3 1,11.3 2.2,13.3 2.2,14.4 -2,11 -3.9,8.8 -0.8"],
"GNQ":["9.4 2.2,11.3 2.2,11.3 1,9.4 1"],
"COG":["13.3 2.2,16 2,16.5 3.3,18 3.5,17.7 -1,16 -3.5,14.4 -4.8,12.2 -5,11 -3.9,14.4 -2"],
"COD":["12.2 -6,13 -5.8,16 -5.9,17.5 -8,22 -7.3,22 -11,24 -11,28 -12.5,29.5 -12.3,28.4 -9.3,29.6 -6,29.3 -4.4,29 -2.7,29 -1.4,29.7 0,30 3.7,27.5 5,25 5,19 3.5,18 3.5,17.7 -1,16 -3.5,14.4 -4.8,13 -4.7"],
"AGO":["12 -5,13 -4.7,13 -5.8,16 -5.9,17.5 -8,22 -7.3,22 -11,24 -11,22 -13,22 -16.4,23.4 -17.6,18.5 -17.4,11.8 -17.3,13.8 -11,13.2 -9"],
"ZMB":["22 -13,24 -11,28 -12.5,29.5 -12.3,28.4 -9.3,31 -8.6,33 -9.4,33.3 -11,33.2 -14,30.5 -15.6,28 -16,25.3 -17.8,23.4 -17.6,22 -16.4"],
"MWI":["33 -9.4,34.3 -10,34.5 -12,35 -14.3,35.8 -16,35 -17,34.3 -14.4,33.2 -14,33.3 -11"],
"MOZ":["34.5 -11.5,40.4 -10.4,40.7 -15,37 -17.5,35 -20,35.5 -24,32.9 -26,32 -26,32 -24,31.3 -22.4,33 -19.5,32.8 -16,30.5 -15.6,33.2 -14,34.3 -14.4,35 -17,35.8 -16,35 -14.3"],
"ZWE":["25.3 -17.8,28 -16,30.5 -15.6,32.8 -16,33 -19.5,31.3 -22.4,29 -22.2,27 -20.5"],
"NAM":["11.8 -17.3,18.5 -17.4,23.4 -17.6,25.3 -17.8,21 -18.3,21 -22,20 -22,20 -28.4,17 -28.9,15 -26.5,14.4 -22"],
"BWA":["21 -18.3,25.3 -17.8,27 -20.5,29 -22.2,26.8 -24.7,25.5 -25.8,23 -25.3,20.8 -26.8,20 -24.7,20 -22,21 -22"],
"ZAF":["17 -28.9,20 -28.4,20 -24.7,20.8 -26.8,23 -25.3,25.5 -25.8,26.8 -24.7,29 -22.2,31.3 -22.4,32 -24,32 -26,32.9 -26,32.4 -28.5,30 -31.5,27 -33.8,22 -34.2,18.5 -34.3,18 -32"],
"LSO":["27.2 -29.6,28.7 -28.7,29.4 -29.7,28 -30.6"],
"SWZ":["30.9 -26,32 -26,32 -27.2,31 -27.2"],
"MDG":["49.3 -12,50.4 -15.5,47.2 -25,45 -25.5,43.5 -23,44.4 -20,44 -17,46.5 -15.7"],
}

country_values = {}
for group, value in zip([GEO_LOW, GEO_200, GEO_300, GEO_400, GEO_500], BIN_VALUES):
    for code in group:
        country_values[code] = value
for code in GEO_NONE:
    country_values[code] = None

def bin_color(value):
    if value is None:
        return NO_DATA_COLOR
    for limit, colour in zip([200, 300, 400, 500], legend_colors):
        if value < limit:
            return colour
    return legend_colors[-1]

def follow_parallels(pts):
    # the geo layer joins vertices by great circles; add vertices so a border stays on its parallel
    out = []
    for a, b in zip(pts, pts[1:] + pts[:1]):
        steps = max(1, int(max(abs(b[0] - a[0]), abs(b[1] - a[1])) // 3))
        for s in range(steps):
            out.append((a[0] + (b[0] - a[0]) * s / steps, a[1] + (b[1] - a[1]) * s / steps))
    return out

def rings(code):
    lons, lats = [], []
    for ring in OUTLINES[code]:
        pts = [tuple(map(float, p.split())) for p in ring.split(",")]
        area = sum(a[0]*b[1]-b[0]*a[1] for a, b in zip(pts, pts[1:]+pts[:1]))
        if area > 0:   # d3-geo wants clockwise exterior rings
            pts = pts[::-1]
        pts = follow_parallels(pts)
        pts = pts + pts[:1]
        lons += [p[0] for p in pts] + [None]
        lats += [p[1] for p in pts] + [None]
    return lons[:-1], lats[:-1]

fig = go.Figure()
for code in OUTLINES:
    lons, lats = rings(code)
    fig.add_trace(go.Scattergeo(lon=lons, lat=lats, mode="lines", fill="toself",
        fillcolor=bin_color(country_values.get(code)),
        line=dict(color="#a9a49c", width=0.5), name=code, showlegend=False,
        hoverinfo="name"))

W, H = 850, 600
PAGE = 8  # the page body offsets the figure by this many pixels
def px(x): return (x - PAGE) / W
def py(y): return 1 - (y - PAGE) / H

shapes = [
    dict(type="rect", x0=px(770), x1=px(834), y0=py(16), y1=py(49), fillcolor="#002147", line_width=0),
    dict(type="rect", x0=px(770), x1=px(834), y0=py(49), y1=py(52), fillcolor="#ce261e", line_width=0),
    dict(type="rect", x0=px(245), x1=px(292), y0=py(537), y1=py(548), fillcolor="#f6f6f6", line=dict(color="#c8c8c8", width=0.6)),
]
for i in range(7):
    shapes.append(dict(type="line", x0=px(247+6*i), x1=px(255+6*i), y0=py(547), y1=py(538),
                       line=dict(color="#dcdcdc", width=1)))
edges = [318, 370.5, 429.5, 488.5, 547, 599]
for i, colour in enumerate(legend_colors):
    x0, x1 = edges[i], edges[i+1]
    if i == 0:
        path = f"M {px(312)} {py(542.5)} L {px(x0)} {py(537)} L {px(x1)} {py(537)} L {px(x1)} {py(548)} L {px(x0)} {py(548)} Z"
    elif i == 4:
        path = f"M {px(x0)} {py(537)} L {px(x1)} {py(537)} L {px(605)} {py(542.5)} L {px(x1)} {py(548)} L {px(x0)} {py(548)} Z"
    else:
        path = f"M {px(x0)} {py(537)} L {px(x1)} {py(537)} L {px(x1)} {py(548)} L {px(x0)} {py(548)} Z"
    shapes.append(dict(type="path", path=path, fillcolor=colour, line=dict(color="#a8a8a8", width=0.5)))
for x in edges[1:5]:
    shapes.append(dict(type="line", x0=px(x), x1=px(x), y0=py(533), y1=py(548), line=dict(color="#8f8f8f", width=0.7)))
shapes.append(dict(type="line", x0=px(268.5), x1=px(268.5), y0=py(533), y1=py(537), line=dict(color="#a0a0a0", width=0.7)))

def note(x, y, text, size, color="#5b5b5b", family="Lato", anchor="left"):
    pad = {"left": -2, "right": 3, "center": 0}[anchor]
    return dict(xref="paper", yref="paper", x=px(x + pad), y=py(y), text=text, showarrow=False,
                xanchor=anchor, yanchor="middle", font=dict(family=family, size=size, color=color))

annotations = [
    note(16, 32, "<b>Average area burnt per wildfire</b>", 26.3, "#363636", "Liberation Serif"),
    note(378, 33, "2025", 18, "#6e6e6e"),
    note(16, 61, "Average area burnt per wildfire, in hectares. The 2026 data is incomplete and was last updated 28 August 2026.", 15),
    note(802, 33.5, "<b>Our World<br>in Data</b>", 12, "#ffffff", anchor="center"),
    note(268.5, 526, "No data", 13.5, anchor="center"),
    note(16, 577, "<b>Data source:</b> Global Wildfire Information System (2026)", 13),
    note(832, 577, "OurWorldinData.org/wildfires | CC BY", 13, anchor="right"),
]
for x, label in zip(edges[1:5], legend_ticks):
    annotations.append(note(x, 526, label, 13.5, anchor="center"))

fig.update_layout(
    width=W, height=H, margin=dict(l=0, r=0, t=0, b=0), paper_bgcolor="white", showlegend=False,
    shapes=shapes, annotations=annotations,
    geo=dict(domain=dict(x=[0, 1], y=[0, 1]), projection=dict(type="robinson", scale=0.985),
             center=dict(lon=29.2, lat=5),
             bgcolor="rgba(0,0,0,0)", showland=False, showocean=False, showlakes=False, showrivers=False,
             showcountries=False, showcoastlines=False, showframe=False, showsubunits=False,
             lonaxis=dict(showgrid=False), lataxis=dict(showgrid=False)),
)
fig.write_html("out.html")
